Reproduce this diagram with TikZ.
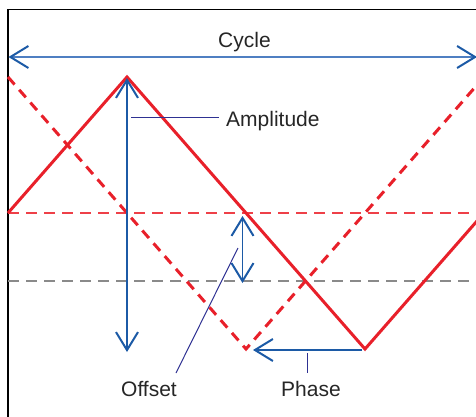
\documentclass[tikz,border=0pt]{standalone}
\usepackage{fontspec}
\setmainfont{Liberation Sans}
\usetikzlibrary{arrows.meta}
\definecolor{wavered}{HTML}{E8202A}
\definecolor{thinred}{HTML}{EE4048}
\definecolor{arrowblue}{HTML}{1C5AA6}
\definecolor{cycleblue}{HTML}{4F7FC2}
\definecolor{leadnavy}{HTML}{2E3192}
\definecolor{basegray}{HTML}{8A8A8A}
\tikzset{
  frameline/.style={draw=black,line width=1.3pt},
  solidwave/.style={draw=wavered,line width=3pt,line join=miter},
  dashwave/.style={draw=wavered,line width=3pt,dash pattern=on 10pt off 7pt},
  redmidline/.style={color=thinred,line width=1.1pt,dash pattern=on 11pt off 7pt},
  zeroline/.style={color=basegray,line width=1.1pt,dash pattern=on 11pt off 7pt},
  barb/.tip={Straight Barb[length=18pt,width=22pt,line width=2pt,color=arrowblue]},
  measure/.style={draw=arrowblue,line width=1.3pt},
  leader/.style={draw=leadnavy,line width=1pt},
  lbl/.style={font=\fontsize{21}{24}\selectfont,text=black!85,inner sep=0pt}
}
\begin{document}
\begin{tikzpicture}[x=1pt,y=-1pt]
\useasboundingbox (0,0) rectangle (476,417);
\clip (0,0) rectangle (476,417);
% frame
\coordinate (fbl) at (8,418);
\coordinate (ftl) at (8,9.5);
\coordinate (ftr) at (477,9.5);
\draw[frameline] (fbl) -- (ftl) -- (ftr);
% reference lines
\coordinate (mL) at (8,213);
\coordinate (mR) at (477,213);
\coordinate (zL) at (8,281);
\coordinate (zR) at (477,281);
\draw[redmidline] (mL) -- (mR);
\draw[zeroline] (zL) -- (zR);
% solid wave
\coordinate (s0) at (8,213);
\coordinate (s1) at (127,77);
\coordinate (s2) at (365,349);
\coordinate (s3) at (484,213);
\draw[solidwave] (s0) -- (s1) -- (s2) -- (s3);
% dashed wave
\coordinate (d0) at (8,77);
\coordinate (d1) at (246,349);
\coordinate (d2) at (484,77);
\draw[dashwave] (d0) -- (d1) -- (d2);
% cycle
\coordinate (cL) at (8.5,57);
\coordinate (cR) at (477,57);
\draw[draw=cycleblue,line width=1.3pt,{barb}-{barb}] (cL) -- (cR);
\node[lbl,anchor=base] (cyc) at (244.5,48) {Cycle};
% amplitude
\coordinate (aT) at (127,78);
\coordinate (aB) at (127,352);
\draw[measure,{barb}-{barb}] (aT) -- (aB);
\coordinate (aL0) at (131,118);
\coordinate (aL1) at (219,118);
\draw[leader] (aL0) -- (aL1);
\node[lbl,anchor=base west] (amp) at (226,127) {Amplitude};
% offset
\coordinate (oT) at (242.5,216);
\coordinate (oB) at (242.5,283);
\draw[measure,{barb}-{barb}] (oT) -- (oB);
\coordinate (oL0) at (176,373);
\coordinate (oL1) at (238,248);
\draw[leader] (oL0) -- (oL1);
\node[lbl,anchor=base] (off) at (149,396) {Offset};
% phase
\coordinate (pS) at (362,350);
\coordinate (pE) at (253,350);
\draw[measure,-{barb}] (pS) -- (pE);
\coordinate (pL0) at (307,353);
\coordinate (pL1) at (307,373);
\draw[leader] (pL0) -- (pL1);
\node[lbl,anchor=base] (pha) at (311,396) {Phase};
\end{tikzpicture}
\end{document}
